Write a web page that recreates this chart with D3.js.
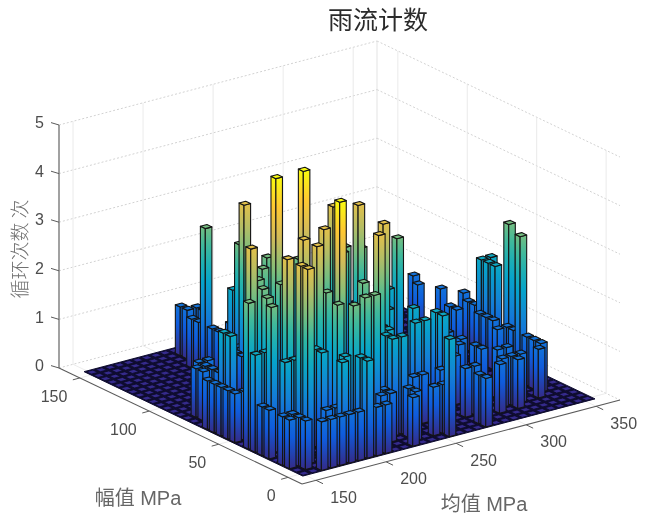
<!DOCTYPE html>
<html><head><meta charset="utf-8">
<script src="https://cdn.jsdelivr.net/npm/d3@7"></script>
<style>html,body{margin:0;padding:0;background:#fff}svg{display:block;filter:blur(.5px)}</style>
</head><body><svg id="c" width="646" height="520"></svg>
<script>
// Rainflow matrix: [mean bin, amplitude bin] of each non-empty cell, grouped by cycle count
const cellsCount1=[[9,30],[9,29],[10,29],[10,28],[8,26],[8,27],[8,24],[8,23],[10,24],[2,18],[3,18],[1,17],[2,17],[2,16],[2,15],[1,16],[0,14],[0,13],[0,12],[0,11],[0,10],[1,10],[6,18],[7,19],[6,17],[0,5],[0,6],[0,3],[0,2],[1,3],[1,1],[1,2],[2,0],[3,0],[4,0],[5,0],[6,0],[4,2],[5,2],[8,0],[9,0],[29,6],[29,5],[29,4],[28,3],[26,3],[24,3],[25,3],[25,2],[23,2],[25,5],[26,5],[29,13],[29,12],[29,11],[28,9],[29,9],[29,8],[24,6],[24,7],[24,9],[23,8],[21,6],[20,3],[21,3],[20,1],[20,0],[12,0],[13,1],[15,1],[16,1],[15,4],[16,4],[24,11],[30,24],[29,22],[30,20],[28,16],[28,15],[31,18],[30,16],[30,15],[13,15],[10,2],[11,2],[11,3],[13,2],[18,4],[13,4]];
const cellsCount2=[[19,13],[18,8],[19,6],[19,5],[17,5],[16,5],[13,3],[16,0],[13,5],[12,3],[12,4],[13,6],[16,9],[7,1],[5,1],[5,4],[7,0],[1,4],[2,4],[8,21],[1,13],[1,12],[0,7],[1,7],[5,5],[6,2],[13,9],[10,5],[14,11],[30,14],[30,13],[31,14],[30,12]];
const cellsCount3=[[8,25],[20,13],[8,20],[8,16],[10,14],[6,14],[3,10],[15,14],[14,13],[16,13],[11,6],[0,8],[2,8],[1,6],[5,10],[6,3],[7,6],[7,2],[9,3],[10,3],[4,12],[30,10],[29,7]];
const cellsCount4=[[7,18],[15,12],[13,13],[9,9],[14,7],[12,5],[1,9],[6,8],[6,6],[2,5],[2,3],[2,2]];
const cellsCount5=[[6,12],[9,12],[7,4]];
const binCount=32;
const meanEdges=[148,356.6], ampEdges=[-2.5,155];
const meanTicks=[150,200,250,300,350], ampTicks=[0,50,100,150], countTicks=[0,1,2,3,4,5];
const parula=["#352a87","#0f5cdd","#1481d6","#06a4ca","#2eb7a4","#87bf77","#d1bb59","#fec832","#f9fb0e"];
const titleText="雨流计数", meanLabel="均值 MPa", ampLabel="幅值 MPa", countLabel="循环次数 次";

const CJK='"Noto Sans CJK SC","Liberation Sans",sans-serif', LAT='"Liberation Sans","Noto Sans CJK SC",Arial,sans-serif';
const svg=d3.select("#c");
// axes scales and oblique view
const sx=d3.scaleLinear([140,367],[0,1]), sy=d3.scaleLinear([-10,165],[0,1]), sz=d3.scaleLinear([0,5],[0,1]);
const O=[302,484], EX=[318,-84], EY=[-243,-116], EZ=-243;
const P3=(x,y,z)=>{const a=sx(x),b=sy(y),c=sz(z);return [O[0]+a*EX[0]+b*EY[0],O[1]+a*EX[1]+b*EY[1]+c*EZ];};
const mx=d3.scaleLinear([0,binCount],meanEdges), my=d3.scaleLinear([0,binCount],ampEdges);
const colorT=d3.scaleLinear(d3.range(parula.length).map(i=>i/(parula.length-1)),parula).interpolate(d3.interpolateRgb);
const xMin=140,xMax=367,yMin=-10,yMax=165;
const line=d3.line();
const seg=(g,a,b,col,w,dash)=>g.append("path").attr("d",line([a,b])).attr("stroke",col).attr("stroke-width",w).attr("fill","none").attr("stroke-dasharray",dash||null);

// grid
const grid=svg.append("g");
const gc="#e4e4e4";
countTicks.forEach(z=>{seg(grid,P3(xMin,yMax,z),P3(xMax,yMax,z),"#d2d2d2",1,"2 2");seg(grid,P3(xMax,yMax,z),P3(xMax,yMin,z),"#d2d2d2",1,"2 2");});
meanTicks.forEach(x=>{seg(grid,P3(x,yMin,0),P3(x,yMax,0),gc,.7);seg(grid,P3(x,yMax,0),P3(x,yMax,5),gc,.8);});
ampTicks.forEach(y=>{seg(grid,P3(xMin,y,0),P3(xMax,y,0),gc,.7);seg(grid,P3(xMax,y,0),P3(xMax,y,5),gc,.8);});
seg(grid,P3(xMax,yMax,0),P3(xMax,yMax,5),"#dcdcdc",.8);

// bars
const defs=svg.append("defs");
const bars=[[cellsCount1,1],[cellsCount2,2],[cellsCount3,3],[cellsCount4,4],[cellsCount5,5]]
  .flatMap(([list,h])=>list.map(([i,j])=>({i,j,h})));
[1,2,3,4,5].forEach(h=>{
  const g=defs.append("linearGradient").attr("id","g"+h).attr("x1",0).attr("x2",0).attr("y1",1).attr("y2",0);
  d3.range(0,1.001,.125).forEach(t=>g.append("stop").attr("offset",t).attr("stop-color",colorT(t*h/5)));
});
const gap=.14;
const poly=pts=>line(pts)+"Z";
const floorG=svg.append("g");
floorG.append("path").attr("d",poly([P3(mx(0),my(0),0),P3(mx(binCount),my(0),0),P3(mx(binCount),my(binCount),0),P3(mx(0),my(binCount),0)])).attr("fill","#100d33").attr("stroke","#100d33");
const allCells=[];d3.range(binCount-1,-1,-1).forEach(i=>d3.range(binCount-1,-1,-1).forEach(j=>allCells.push([i,j])));
const cellPts=(i,j,z)=>{const x0=mx(i+gap),x1=mx(i+1-gap),y0=my(j+gap),y1=my(j+1-gap);return {x0,x1,y0,y1,pts:[P3(x0,y0,z),P3(x1,y0,z),P3(x1,y1,z),P3(x0,y1,z)]};};
floorG.selectAll("path.f").data(allCells).join("path").attr("class","f").attr("d",([i,j])=>poly(cellPts(i,j,0).pts)).attr("fill","#352a8c").attr("stroke","#0b0a26").attr("stroke-width",.8);
const order=bars.slice().sort((a,b)=>(b.i+b.j)-(a.i+a.j)||b.i-a.i);
const barG=svg.append("g").attr("stroke","#141414").attr("stroke-width",1.1).attr("stroke-linejoin","round");
order.forEach(d=>{
  const {x0,x1,y0,y1}=cellPts(d.i,d.j,0), h=d.h, g=barG.append("g");
  g.append("path").attr("d",poly([P3(x0,y0,0),P3(x0,y1,0),P3(x0,y1,h),P3(x0,y0,h)])).attr("fill",`url(#g${h})`);
  g.append("path").attr("d",poly([P3(x0,y0,0),P3(x1,y0,0),P3(x1,y0,h),P3(x0,y0,h)])).attr("fill",`url(#g${h})`);
  g.append("path").attr("d",poly([P3(x0,y0,h),P3(x1,y0,h),P3(x1,y1,h),P3(x0,y1,h)])).attr("fill",colorT(h/5));
});

// axes
const axis=svg.append("g"), ac="#5a5a5a", tc="#4d4d4d";
seg(axis,P3(xMin,yMax,0),P3(xMin,yMax,5),"#8a8a8a",1.6);
seg(axis,P3(xMin,yMax,0),P3(xMin,yMin,0),ac,1.1);
seg(axis,P3(xMin,yMin,0),P3(xMax,yMin,0),ac,1.1);
const text=(x,y,s,size,anchor,font,col,weight)=>axis.append("text").attr("x",x).attr("y",y).attr("font-size",size).attr("text-anchor",anchor).attr("dominant-baseline","middle").attr("font-family",font).attr("fill",col).attr("font-weight",weight||400).text(s);
countTicks.forEach(z=>{const p=P3(xMin,yMax,z);seg(axis,p,[p[0]-8,p[1]-2.4],ac,1);text(44,p[1]-1,z,16,"end",LAT,tc);});
meanTicks.forEach(x=>{const p=P3(x,yMin,0);seg(axis,p,[p[0]+7,p[1]+3.4],ac,1);text(p[0]+27.5,p[1]+18,x,16,"middle",LAT,tc);});
ampTicks.forEach(y=>{const p=P3(xMin,y,0);seg(axis,p,[p[0]-7,p[1]+1.9],ac,1);text(p[0]-12.5,p[1]+19.5,y,16,"end",LAT,tc);});
text(378,22,titleText,25,"middle",CJK,"#2b2b2b",400);
text(138,500,ampLabel,20,"middle",LAT,"#666");
text(484,506,meanLabel,20,"middle",LAT,"#666");
axis.append("text").attr("x",0).attr("y",0).attr("transform","translate(18,249) rotate(-90)").attr("text-anchor","middle").attr("dominant-baseline","central").attr("font-size",19).attr("font-family",CJK).attr("font-weight",300).attr("fill","#707070").text(countLabel);
</script></body></html>
